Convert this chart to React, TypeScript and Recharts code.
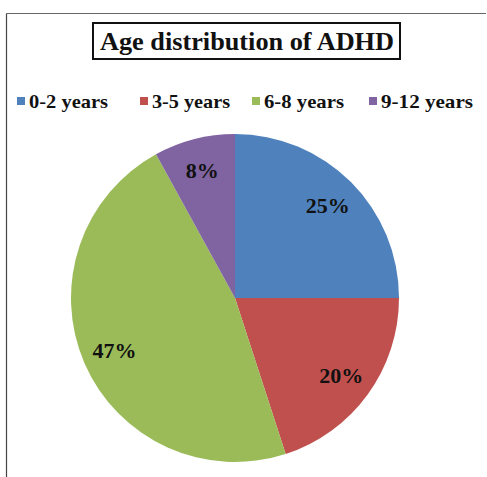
import React from 'react';
import { PieChart, Pie, Cell, Legend } from 'recharts';

// Age groups and their share (%)
const AGE_GROUPS = ['0-2 years', '3-5 years', '6-8 years', '9-12 years'];
const SHARES = [25, 20, 47, 8];
const SLICE_COLORS = ['#4F81BD', '#C0504D', '#9BBB59', '#8064A2'];
// measured widths of the legend labels in the reference
const LEGEND_TEXT_WIDTHS = [79, 78, 80, 92];

const data = AGE_GROUPS.map((name, i) => ({ name, value: SHARES[i] }));

const SERIF = 'Liberation Serif, Times New Roman, serif';
const RAD = Math.PI / 180;

const renderLabel = (props: any) => {
  const { cx, cy, midAngle, outerRadius, value } = props;
  const r = outerRadius * 0.8;
  const x = cx + r * Math.cos(-midAngle * RAD);
  const y = cy + r * Math.sin(-midAngle * RAD);
  return (
    <text
      x={x}
      y={y}
      textAnchor="middle"
      dominantBaseline="central"
      style={{ fontFamily: SERIF, fontWeight: 700, fontSize: 22 }}
      fill="#111"
    >
      {`${value}%`}
    </text>
  );
};

// legend drawn as one svg row, items placed at the reference spacing
const renderLegend = (props: any) => {
  const { payload } = props;
  const starts = [17, 140, 252, 369];
  return (
    <svg width={487} height={24} style={{ display: 'block' }}>
      {payload.map((entry: any, i: number) => (
        <g key={`leg-${i}`}>
          <rect x={starts[i]} y={9} width={8} height={8} fill={entry.color} />
          <text
            x={starts[i] + 12}
            y={20}
            style={{ fontFamily: SERIF, fontWeight: 700, fontSize: 19 }}
            fill="#111"
            textLength={LEGEND_TEXT_WIDTHS[i]}
            lengthAdjust="spacingAndGlyphs"
          >
            {entry.value}
          </text>
        </g>
      ))}
    </svg>
  );
};

export default function App() {
  return (
    <div style={{ position: 'absolute', left: 0, top: 0, width: 487, height: 477, background: '#fff' }}>
      {/* frame and title */}
      <svg width={487} height={477} style={{ position: 'absolute', left: 0, top: 0 }}>
        <line x1={6.5} y1={13.5} x2={486} y2={13.5} stroke="#666" strokeWidth={1} />
        <line x1={6.5} y1={13.5} x2={6.5} y2={477} stroke="#444" strokeWidth={1.2} />
        <rect x={93} y={23} width={307} height={36} fill="none" stroke="#111" strokeWidth={2} />
        <text
          x={100}
          y={50}
          style={{ fontFamily: SERIF, fontWeight: 700, fontSize: 25 }}
          fill="#111"
          textLength={294}
          lengthAdjust="spacingAndGlyphs"
        >
          Age distribution of ADHD
        </text>
      </svg>
      <div style={{ position: 'absolute', left: 0, top: 0 }}>
        <PieChart width={487} height={477} margin={{ top: 0, right: 0, bottom: 0, left: 0 }}>
          <Legend
            layout="horizontal"
            verticalAlign="middle"
            align="center"
            content={renderLegend}
            wrapperStyle={{ top: 88, left: 0, width: 487 }}
          />
          <Pie
            data={data}
            dataKey="value"
            nameKey="name"
            cx={235}
            cy={298}
            outerRadius={164}
            startAngle={90}
            endAngle={-270}
            stroke="none"
            labelLine={false}
            label={renderLabel}
            isAnimationActive={false}
          >
            {data.map((entry, index) => (
              <Cell key={`cell-${index}`} fill={SLICE_COLORS[index]} />
            ))}
          </Pie>
        </PieChart>
      </div>
    </div>
  );
}
